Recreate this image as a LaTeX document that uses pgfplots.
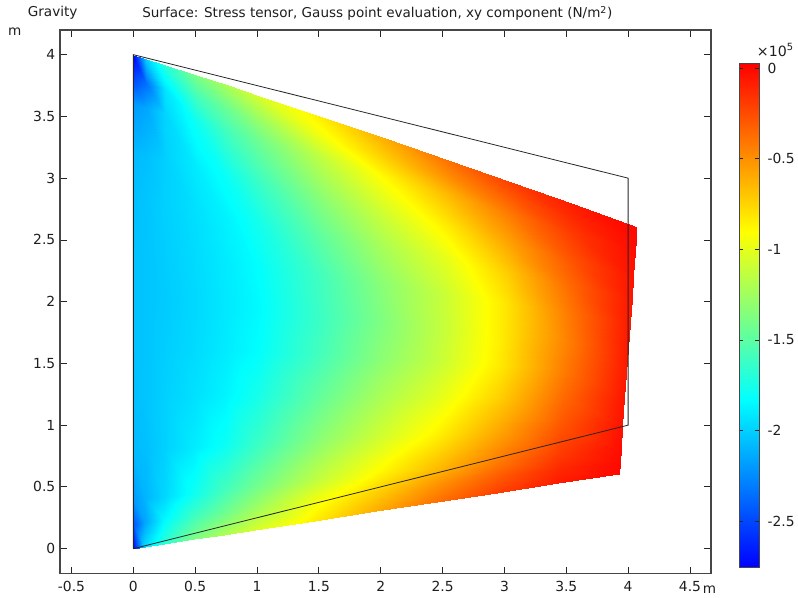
\documentclass[border=0pt]{standalone}
\usepackage{fontspec}
\setmainfont{DejaVu Sans}
\usepackage{pgfplots}
\pgfplotsset{compat=1.18}
\definecolor{axc}{RGB}{70,70,70}
\definecolor{txc}{RGB}{30,30,30}
\begin{document}
\begin{tikzpicture}[x=1pt,y=1pt]
\path[use as bounding box] (0,0) rectangle (598.5,448.5);
\begin{axis}[
  at={(45pt,18.5pt)}, anchor=south west,
  scale only axis, width=488.25pt, height=407.5pt,
  xmin=-0.593, xmax=4.67, ymin=-0.2, ymax=4.2,
  tick align=inside, tick pos=both, major tick length=4.9pt,
  tick style={color=black!85, line width=0.6pt},
  axis line style={color=axc, line width=0.8pt},
  xtick={-0.5,0,0.5,1,1.5,2,2.5,3,3.5,4,4.5},
  xticklabels={-0.5,0,0.5,1,1.5,2,2.5,3,3.5,4,4.5},
  ytick={0,0.5,1,1.5,2,2.5,3,3.5,4},
  yticklabels={0,0.5,1,1.5,2,2.5,3,3.5,4},
  tick label style={font=\fontsize{10.4}{12}\selectfont, text=txc},
  x tick label style={yshift=-2.6pt},
  clip=false,
  colormap={comsol}{rgb255(0)=(0,0,255) rgb255(1)=(0,255,255) rgb255(2)=(255,255,0) rgb255(3)=(255,0,0)},
  point meta min=-2.757, point meta max=0.025,
  colorbar,
  colorbar style={
    at={(parent axis.north east)}, anchor=north west,
    xshift=12.75pt, yshift=-25.3pt,
    scale only axis, width=15pt, height=378pt,
    ytick={-2.5,-2,-1.5,-1,-0.5,0},
    yticklabels={-2.5,-2,-1.5,-1,-0.5,0},
    ytick pos=both, yticklabel pos=right,
    tick align=inside, major tick length=3pt,
    tick style={color=black!85, line width=0.6pt},
    axis line style={color=axc, line width=0.7pt},
    y tick label style={font=\fontsize{10.4}{12}\selectfont, text=txc, xshift=2.6pt},
  },
]
\addplot[surf, shader=interp, mesh/cols=13, point meta=explicit] table[x=x, y=y, meta=c] {
x y c
0 0 -2.757
0 0.2 -2.45
0 0.4 -2.2
0 0.8 -2.08
0 1.24 -2.06
0 1.64 -2.05
0 2.04 -2.05
0 2.44 -2.05
0 2.84 -2.06
0 3.2 -2.08
0 3.6 -2.2
0 3.8 -2.5
0 4 -2.757
0.098 0.015 -1.95
0.098 0.213 -2.15
0.098 0.410 -2.10
0.099 0.805 -2.06
0.099 1.240 -2.04
0.100 1.635 -2.04
0.100 2.031 -2.04
0.100 2.426 -2.04
0.101 2.821 -2.04
0.101 3.177 -2.06
0.101 3.572 -2.15
0.101 3.770 -2.35
0.102 3.967 -2.0
0.245 0.038 -1.68
0.245 0.232 -1.85
0.246 0.426 -1.98
0.247 0.814 -2.0
0.248 1.241 -2.0
0.249 1.629 -2.01
0.250 2.017 -2.02
0.250 2.405 -2.01
0.251 2.793 -2.0
0.252 3.142 -2.0
0.253 3.530 -1.98
0.254 3.724 -1.92
0.254 3.918 -1.68
0.491 0.076 -1.38
0.491 0.264 -1.60
0.492 0.452 -1.78
0.494 0.827 -1.90
0.496 1.241 -1.94
0.498 1.617 -1.96
0.500 1.993 -1.97
0.502 2.369 -1.96
0.503 2.745 -1.94
0.505 3.083 -1.90
0.507 3.459 -1.78
0.508 3.647 -1.60
0.509 3.835 -1.38
0.736 0.113 -1.2
0.737 0.295 -1.43
0.739 0.477 -1.58
0.741 0.841 -1.79
0.744 1.241 -1.87
0.747 1.605 -1.90
0.750 1.969 -1.91
0.752 2.333 -1.90
0.755 2.696 -1.87
0.758 3.024 -1.79
0.760 3.388 -1.58
0.762 3.569 -1.43
0.763 3.751 -1.2
0.981 0.151 -1.05
0.983 0.327 -1.26
0.985 0.503 -1.42
0.988 0.854 -1.63
0.992 1.241 -1.76
0.996 1.593 -1.83
1.000 1.944 -1.85
1.003 2.296 -1.83
1.007 2.648 -1.76
1.010 2.964 -1.63
1.014 3.316 -1.42
1.016 3.491 -1.26
1.018 3.667 -1.05
1.472 0.227 -0.83
1.474 0.390 -0.95
1.477 0.554 -1.13
1.482 0.881 -1.33
1.488 1.240 -1.48
1.494 1.567 -1.59
1.499 1.894 -1.62
1.505 2.221 -1.59
1.510 2.548 -1.48
1.515 2.842 -1.33
1.521 3.169 -1.13
1.524 3.333 -0.95
1.526 3.496 -0.83
1.962 0.303 -0.60
1.966 0.454 -0.72
1.969 0.605 -0.88
1.977 0.907 -1.08
1.985 1.239 -1.22
1.992 1.541 -1.33
1.999 1.843 -1.37
2.007 2.145 -1.33
2.014 2.447 -1.22
2.020 2.719 -1.08
2.028 3.021 -0.88
2.031 3.172 -0.72
2.035 3.324 -0.60
2.453 0.378 -0.38
2.457 0.517 -0.50
2.462 0.655 -0.65
2.471 0.932 -0.85
2.481 1.237 -1.0
2.490 1.514 -1.10
2.499 1.791 -1.12
2.508 2.068 -1.10
2.517 2.345 -1.0
2.526 2.594 -0.85
2.535 2.871 -0.65
2.539 3.010 -0.50
2.544 3.148 -0.38
2.943 0.454 -0.20
2.948 0.580 -0.30
2.954 0.705 -0.41
2.965 0.957 -0.58
2.977 1.234 -0.72
2.988 1.485 -0.81
2.999 1.737 -0.82
3.010 1.989 -0.81
3.021 2.240 -0.72
3.031 2.467 -0.58
3.042 2.718 -0.41
3.047 2.844 -0.30
3.053 2.970 -0.20
3.434 0.529 -0.07
3.440 0.642 -0.12
3.446 0.755 -0.18
3.459 0.981 -0.28
3.473 1.230 -0.36
3.486 1.456 -0.42
3.499 1.682 -0.45
3.511 1.908 -0.42
3.524 2.134 -0.36
3.536 2.337 -0.28
3.549 2.563 -0.18
3.555 2.676 -0.12
3.561 2.790 -0.07
3.924 0.605 0
3.931 0.705 -0.01
3.939 0.805 -0.02
3.953 1.005 -0.04
3.969 1.226 -0.05
3.984 1.426 -0.06
3.998 1.626 -0.06
4.013 1.826 -0.06
4.028 2.026 -0.05
4.041 2.207 -0.04
4.055 2.407 -0.02
4.063 2.507 -0.01
4.070 2.607 0
};
\addplot[black!85, line width=0.6pt, no marks] coordinates {(0,0) (4,1) (4,3) (0,4) (0,0)};
\end{axis}
\node[anchor=center, text=txc, font=\fontsize{10.2}{12}\selectfont] at (39.5,439) {Gravity};
\node[anchor=center, text=txc, font=\fontsize{10.15}{12}\selectfont] at (283,438.5) {Surface: Stress tensor, Gauss point evaluation, xy component (N/m\textsuperscript{2})};
\node[anchor=center, text=txc, font=\fontsize{10.2}{12}\selectfont] at (11,425) {m};
\node[anchor=base west, text=txc, inner sep=0pt, font=\fontsize{10.2}{12}\selectfont] at (527,3.2) {m};
\node[anchor=center, text=txc, font=\fontsize{10.6}{12}\selectfont] at (581.5,411) {×10\textsuperscript{5}};
\end{tikzpicture}
\end{document}
